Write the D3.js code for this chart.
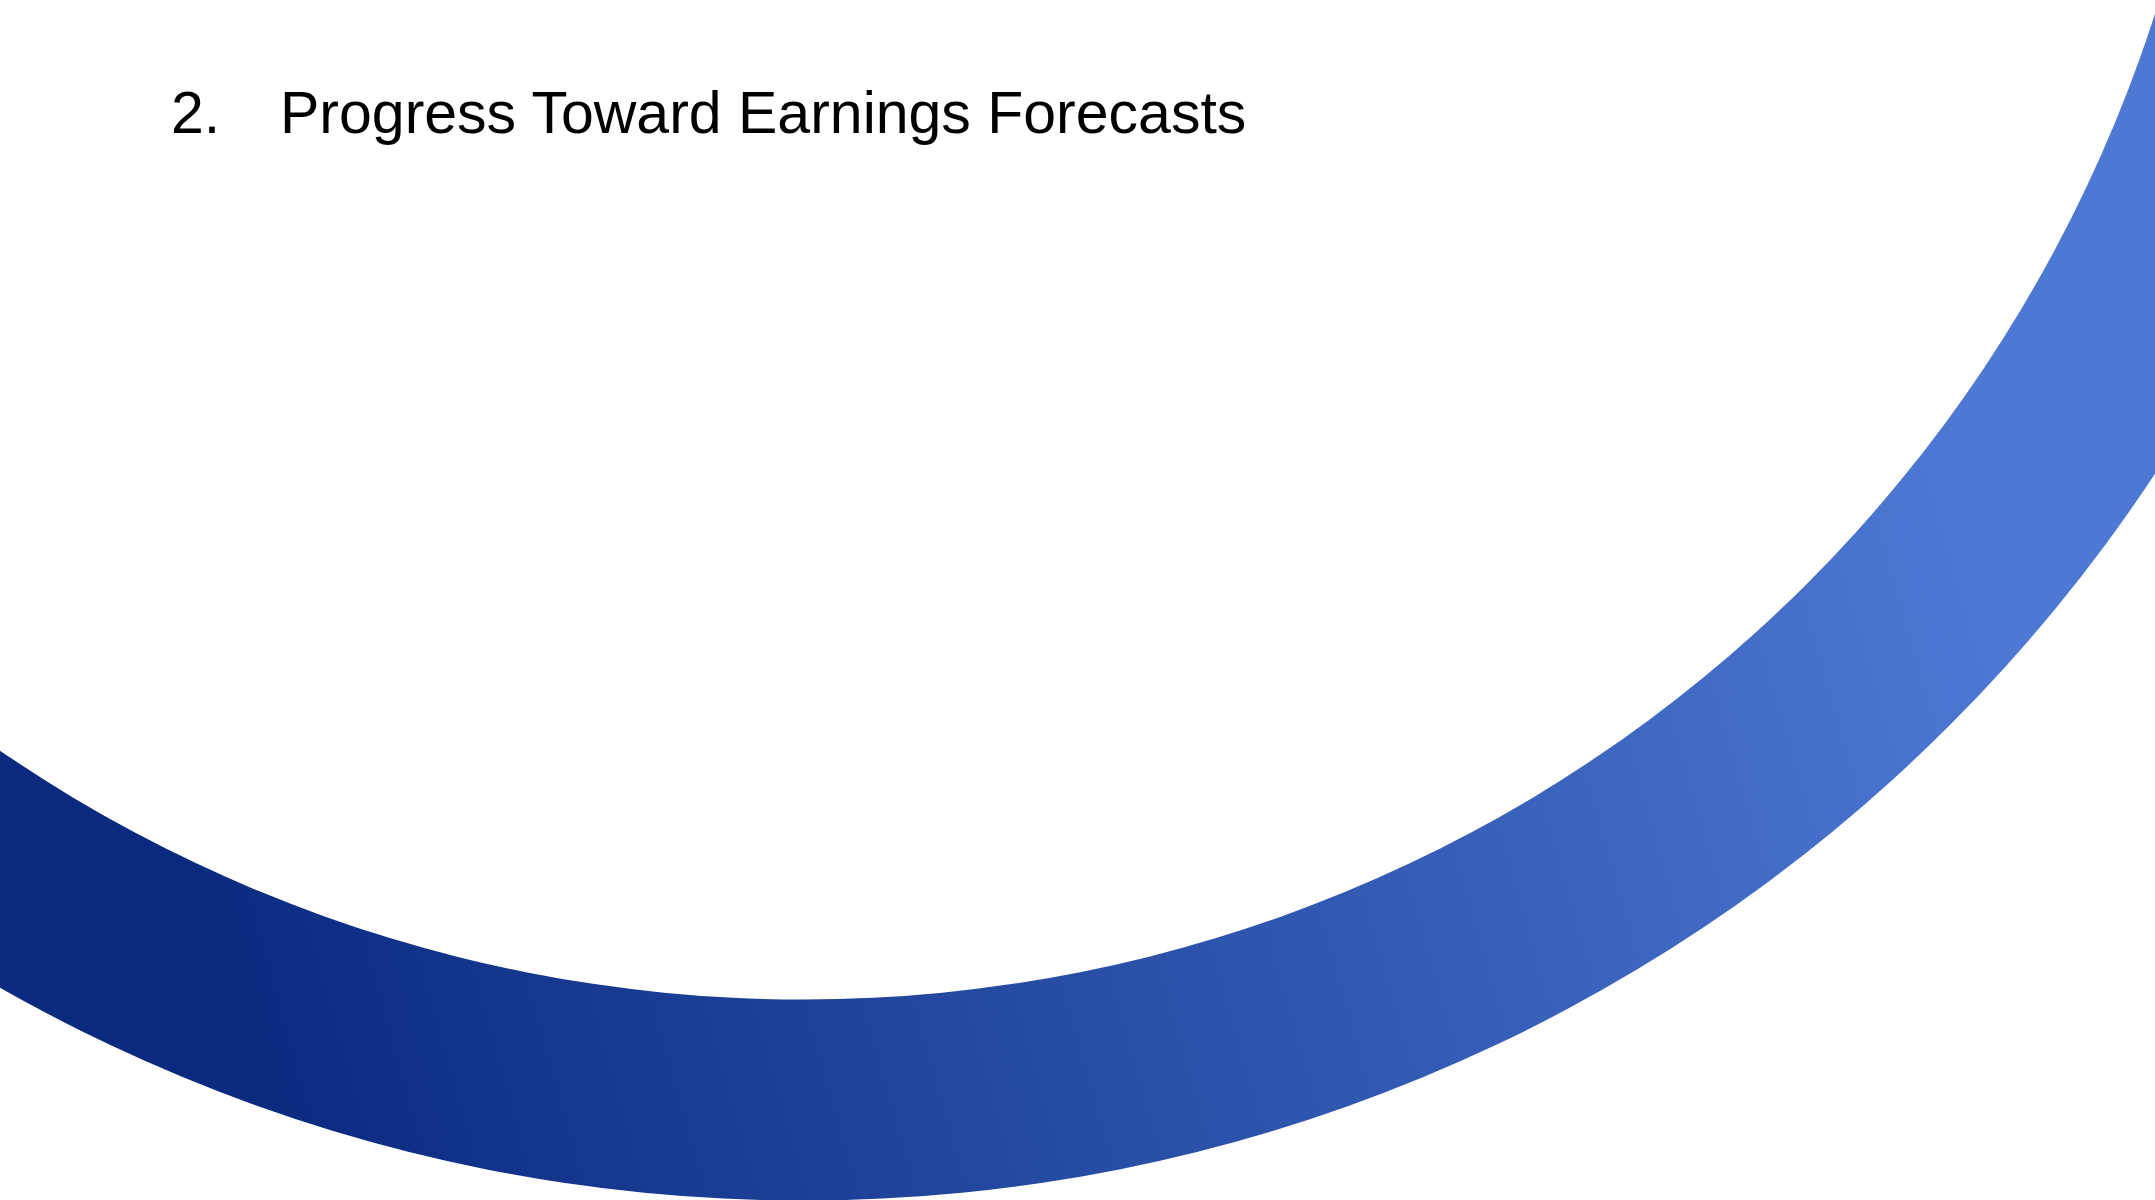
<!DOCTYPE html>
<html>
<head>
<meta charset="utf-8">
<script src="https://cdn.jsdelivr.net/npm/d3@7"></script>
<style>
  html, body { margin: 0; padding: 0; background: #fff; }
  svg { display: block; }
</style>
</head>
<body>
<div id="slide"></div>
<script>
// Slide content
const titleNumber = '2.';
const titleText = 'Progress Toward Earnings Forecasts';

// Decorative ring: one band, gradient from dark navy to light blue
const ringSegments = ['ring'];
const gradientStops = [
  { offset: 0, color: '#0a2a80' },
  { offset: 1, color: '#4d79d4' }
];

const w = 2155;
const h = 1200;

// Ring geometry (centre sits above the slide, so only the lower arc shows)
const ring = { cx: 803, cy: -421, inner: 1420, outer: 1621 };

const svg = d3.select('#slide')
  .append('svg')
  .attr('width', w)
  .attr('height', h)
  .attr('viewBox', `0 0 ${w} ${h}`);

svg.append('rect')
  .attr('width', w)
  .attr('height', h)
  .attr('fill', '#fff');

// Gradient runs from lower left to upper right
const defs = svg.append('defs');
const grad = defs.append('linearGradient')
  .attr('id', 'ringGrad')
  .attr('gradientUnits', 'userSpaceOnUse')
  .attr('x1', 200).attr('y1', 900)
  .attr('x2', 1950).attr('y2', 400);

grad.selectAll('stop')
  .data(gradientStops)
  .join('stop')
  .attr('offset', d => d.offset)
  .attr('stop-color', d => d.color);

// annulus drawn in slide coordinates so the gradient lines up
svg.append('g')
  .selectAll('path')
  .data(ringSegments)
  .join('path')
  .attr('d', () => {
    const p = d3.path();
    p.arc(ring.cx, ring.cy, ring.outer, 0, 2 * Math.PI);
    p.moveTo(ring.cx + ring.inner, ring.cy);
    p.arc(ring.cx, ring.cy, ring.inner, 0, 2 * Math.PI, true);
    return p.toString();
  })
  .attr('fill', 'url(#ringGrad)')
  .attr('fill-rule', 'evenodd');

// Title
const title = svg.append('g')
  .attr('font-family', '"Liberation Sans", Arial, sans-serif')
  .attr('font-size', 59)
  .attr('fill', '#000');

title.append('text')
  .attr('x', 171)
  .attr('y', 133)
  .text(titleNumber);

title.append('text')
  .attr('x', 280)
  .attr('y', 133)
  .text(titleText);
</script>
</body>
</html>
